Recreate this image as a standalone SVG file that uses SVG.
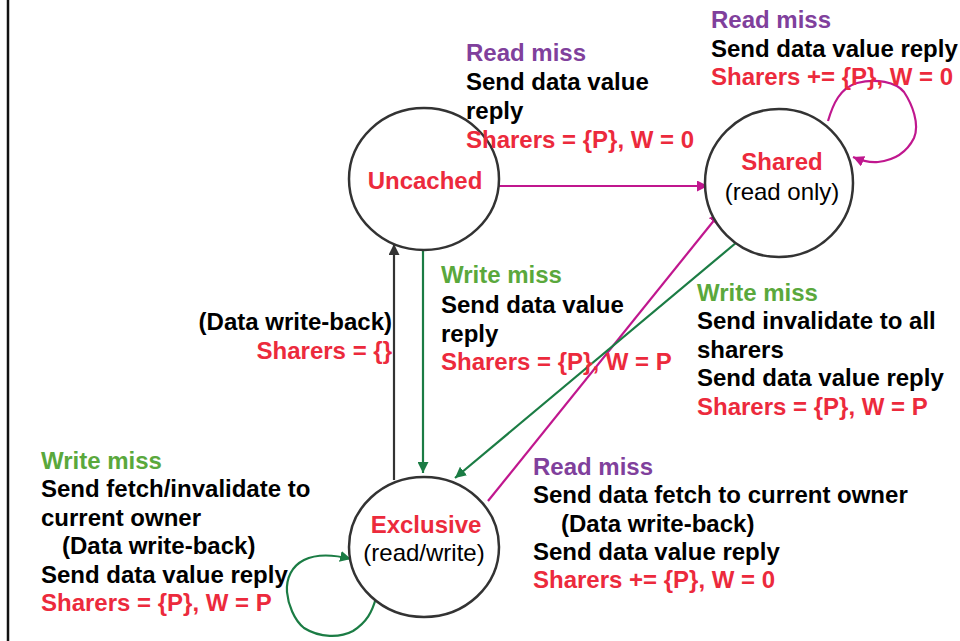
<svg xmlns="http://www.w3.org/2000/svg" width="960" height="641" viewBox="0 0 960 641">
<style>
text{font-family:"Liberation Sans",Arial,sans-serif;font-size:24px;font-weight:bold;fill:#000}
.r{fill:#ec2a3c}
.p{fill:#80409c}
.g{fill:#5aa83c}
.n{font-weight:normal}
.st{fill:#fff;stroke:#333;stroke-width:2.5}
.cm{fill:none;stroke:#c0178e;stroke-width:2.2}
.cg{fill:none;stroke:#1b7c44;stroke-width:2.2}
.ck{fill:none;stroke:#333;stroke-width:2.2}
</style>
<defs>
<marker id="am" viewBox="0 0 10 10" refX="10" refY="5" markerWidth="5" markerHeight="5" orient="auto" markerUnits="strokeWidth"><path d="M0,0L10,5L0,10z" fill="#c0178e"/></marker>
<marker id="ag" viewBox="0 0 10 10" refX="10" refY="5" markerWidth="5" markerHeight="5" orient="auto" markerUnits="strokeWidth"><path d="M0,0L10,5L0,10z" fill="#1b7c44"/></marker>
<marker id="ak" viewBox="0 0 10 10" refX="10" refY="5" markerWidth="5" markerHeight="5" orient="auto" markerUnits="strokeWidth"><path d="M0,0L10,5L0,10z" fill="#333"/></marker>
</defs>
<rect width="960" height="641" fill="#fff"/>
<line x1="8" y1="0" x2="8" y2="641" stroke="#111" stroke-width="2.5"/>

<g id="connectors">
<line class="cm" x1="499" y1="186" x2="708" y2="186" marker-end="url(#am)"/>
<line class="cm" x1="488" y1="501" x2="720" y2="213" marker-end="url(#am)"/>
<line class="cg" x1="743" y1="237" x2="455" y2="478" marker-end="url(#ag)"/>
<line class="cg" x1="423" y1="251" x2="423" y2="473" marker-end="url(#ag)"/>
<line class="ck" x1="394" y1="480" x2="394" y2="244" marker-end="url(#ak)"/>
<path class="cm" d="M828,121 C833,104 840,88 857,83 C876,78 896,82 904,92 C912,104 920,124 914,138 C907,152 896,160 878,162 C868,163 860,160 853,157" marker-end="url(#am)"/>
<path class="cg" d="M376,598 C372,612 367,622 353,631 C340,638 320,638 304,628 C294,620 288,604 287,592 C286,578 292,566 304,560 C318,553 335,555 351,559" marker-end="url(#ag)"/>
</g>

<g id="uncached">
<ellipse class="st" cx="424" cy="179" rx="75" ry="71"/>
<text class="r" x="425" y="189" text-anchor="middle">Uncached</text>
</g>
<g id="shared">
<ellipse class="st" cx="779" cy="183" rx="74" ry="74"/>
<text class="r" x="782" y="170" text-anchor="middle">Shared</text>
<text class="n" x="782" y="200" text-anchor="middle">(read only)</text>
</g>
<g id="exclusive">
<ellipse class="st" cx="424" cy="547" rx="75" ry="70"/>
<text class="r" x="426" y="533" text-anchor="middle">Exclusive</text>
<text class="n" x="424" y="561" text-anchor="middle">(read/write)</text>
</g>

<g id="label-uncached-shared">
<text class="p" x="466" y="61">Read miss</text>
<text x="466" y="90">Send data value</text>
<text x="466" y="119">reply</text>
<text class="r" x="466" y="148">Sharers = {P}, W = 0</text>
</g>
<g id="label-shared-loop">
<text class="p" x="711" y="28">Read miss</text>
<text x="711" y="57">Send data value reply</text>
<text class="r" x="711" y="85">Sharers += {P}, W = 0</text>
</g>
<g id="label-exclusive-uncached">
<text x="392" y="330" text-anchor="end">(Data write-back)</text>
<text class="r" x="392" y="359" text-anchor="end">Sharers = {}</text>
</g>
<g id="label-uncached-exclusive">
<text class="g" x="441" y="283">Write miss</text>
<text x="441" y="313">Send data value</text>
<text x="441" y="342">reply</text>
<text class="r" x="441" y="370">Sharers = {P}, W = P</text>
</g>
<g id="label-shared-exclusive">
<text class="g" x="697" y="301">Write miss</text>
<text x="697" y="329">Send invalidate to all</text>
<text x="697" y="358">sharers</text>
<text x="697" y="386">Send data value reply</text>
<text class="r" x="697" y="415">Sharers = {P}, W = P</text>
</g>
<g id="label-exclusive-loop">
<text class="g" x="41" y="469">Write miss</text>
<text x="41" y="497">Send fetch/invalidate to</text>
<text x="41" y="526">current owner</text>
<text x="62" y="554">(Data write-back)</text>
<text x="41" y="583">Send data value reply</text>
<text class="r" x="41" y="611">Sharers = {P}, W = P</text>
</g>
<g id="label-exclusive-shared">
<text class="p" x="533" y="475">Read miss</text>
<text x="533" y="503">Send data fetch to current owner</text>
<text x="561" y="532">(Data write-back)</text>
<text x="533" y="560">Send data value reply</text>
<text class="r" x="533" y="588">Sharers += {P}, W = 0</text>
</g>
</svg>
